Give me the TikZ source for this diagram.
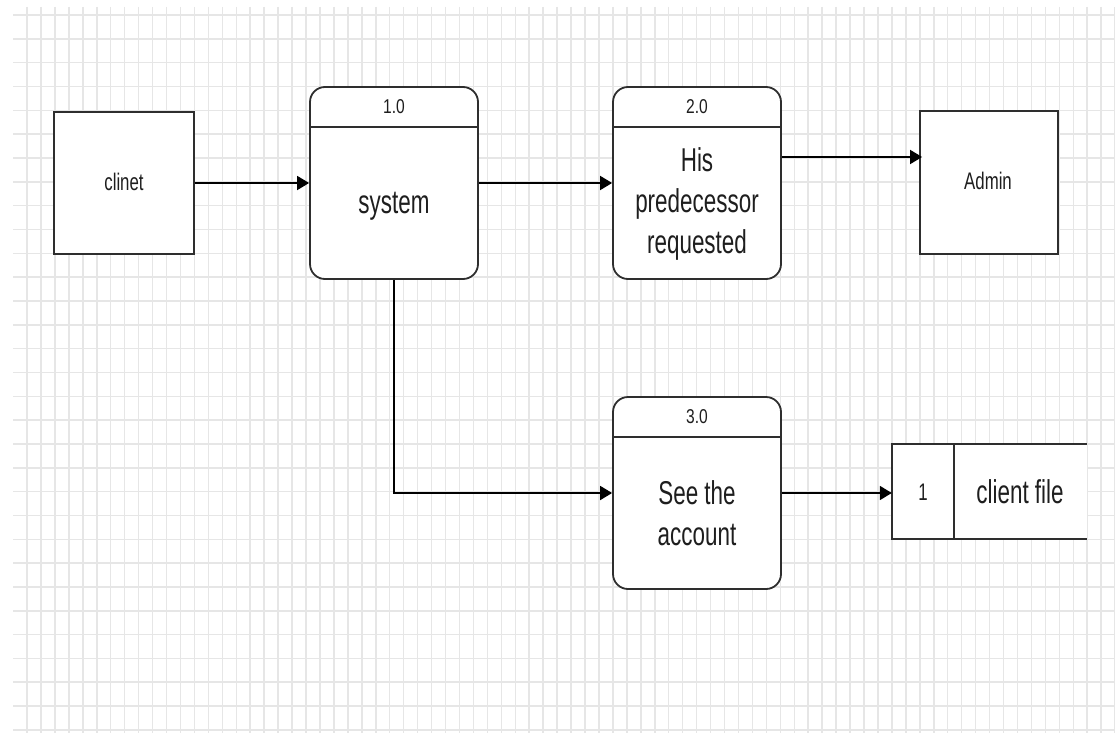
\documentclass[tikz,border=0pt]{standalone}
\usepackage{fontspec}
\setmainfont{Liberation Sans}
\usetikzlibrary{arrows.meta}
\definecolor{gridc}{HTML}{E6E6E6}
\definecolor{edgec}{HTML}{2E2E2E}
\definecolor{txtc}{HTML}{1E1E1E}
\tikzset{
  ent/.style={draw=edgec, line width=1.8pt, fill=white, inner sep=0pt},
  proc/.style={draw=edgec, line width=1.8pt, fill=white, rounded corners=15pt, inner sep=0pt},
  hline/.style={draw=edgec, line width=1.8pt},
  lab/.style={xscale=0.68, transform shape, text=txtc, inner sep=0pt},
  big/.style={lab, font=\fontsize{33}{41}\selectfont, align=center},
  small/.style={lab, xscale=1.03, font=\fontsize{24}{29}\selectfont},
  head/.style={xscale=0.78, transform shape, text=txtc, inner sep=0pt, font=\fontsize{20}{24}\selectfont},
  flow/.style={draw=black, line width=1.8pt, -{Triangle[length=12pt,width=14pt]}},
}
\begin{document}
\begin{tikzpicture}[x=1pt,y=-1pt]
\useasboundingbox (0,0) rectangle (1115,733);
\fill[white] (0,0) rectangle (1115,733);
\begin{scope}
\clip (13,7) rectangle (1115,733);
\foreach \i in {0,...,78} \draw[gridc, line width=1.5pt] ({27+13.95*\i},7) -- ({27+13.95*\i},733);
\foreach \j in {0,...,30} \draw[gridc, line width=1.5pt] (13,{15+23.83*\j}) -- (1115,{15+23.83*\j});
\end{scope}

% external entities
\node[ent, minimum width=140pt, minimum height=142pt] (clinet) at (124,183) {};
\node[small] (clinetT) at (124,182) {clinet};
\node[ent, minimum width=138pt, minimum height=143pt] (admin) at (989,182.5) {};
\node[small] (adminT) at (988,181) {Admin};

% processes
\node[proc, minimum width=168pt, minimum height=192pt] (p1) at (394,183) {};
\draw[hline] ([yshift=-41pt]p1.north west) -- ([yshift=-41pt]p1.north east);
\node[head] (p1n) at ([yshift=-20.5pt]p1.north) {1.0};
\node[big] (p1t) at (394,206) {system};

\node[proc, minimum width=168pt, minimum height=192pt] (p2) at (697,183) {};
\draw[hline] ([yshift=-41pt]p2.north west) -- ([yshift=-41pt]p2.north east);
\node[head] (p2n) at ([yshift=-20.5pt]p2.north) {2.0};
\node[big] (p2t) at (697,204) {His\\predecessor\\requested};

\node[proc, minimum width=168pt, minimum height=192pt] (p3) at (697,493) {};
\draw[hline] ([yshift=-41pt]p3.north west) -- ([yshift=-41pt]p3.north east);
\node[head] (p3n) at ([yshift=-20.5pt]p3.north) {3.0};
\node[big] (p3t) at (697,513) {See the\\account};

% data store
\node[fill=white, minimum width=195pt, minimum height=95pt, inner sep=0pt] (store) at (989.5,491.5) {};
\draw[hline] (store.north east) -- (store.north west) -- (store.south west) -- (store.south east);
\draw[hline] ([xshift=62pt]store.north west) -- ([xshift=62pt]store.south west);
\node[small] (s1) at (923,492) {1};
\node[big] (s2) at (1020,492) {client file};

% flows
\coordinate (a2) at (0,157);
\draw[flow] (clinet.east) -- (p1.west);
\draw[flow] (p1.east) -- (p2.west);
\draw[flow] (p2.east |- a2) -- ([xshift=3pt]admin.west |- a2);
\draw[flow] (p1.south) |- (p3.west);
\draw[flow] (p3.east) -- (p3.east -| store.west);
\end{tikzpicture}
\end{document}
